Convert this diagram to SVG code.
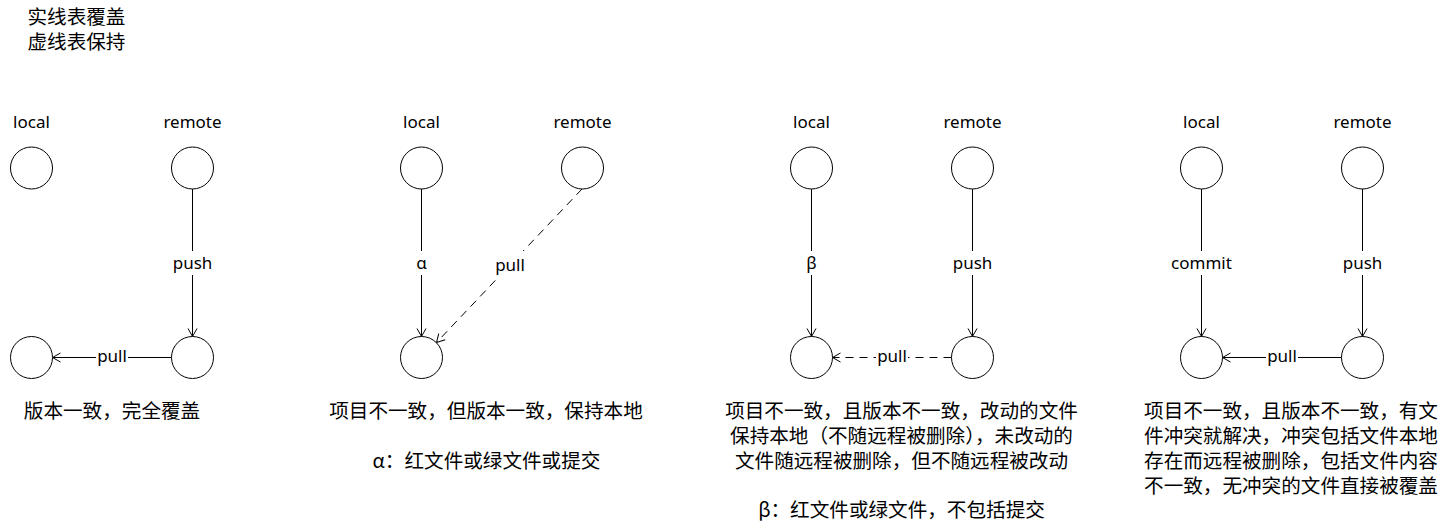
<svg xmlns="http://www.w3.org/2000/svg" width="1452" height="532" viewBox="0 0 1452 532">
<defs>
<marker id="arr" markerUnits="userSpaceOnUse" markerWidth="14" markerHeight="14" viewBox="-11 -7 14 14" refX="0" refY="0" orient="auto">
<path d="M-8,-4.5 L0,0 L-8,4.5" fill="none" stroke="#000" stroke-width="1"/>
</marker>
</defs>
<style>
.n{fill:#fff;stroke:#000;stroke-width:1}
.e{fill:none;stroke:#000;stroke-width:1;marker-end:url(#arr)}
.d{stroke-dasharray:8 6}
.bg{fill:#fff;stroke:none}
.lbl{font-family:"Noto Sans","Noto Sans CJK SC",sans-serif;font-size:17px;fill:#000;text-anchor:middle}
.cn{font-family:"Noto Sans CJK SC","Noto Sans",sans-serif;font-size:19.6px;fill:#000;text-anchor:middle}
.cs{font-family:"Noto Sans CJK SC","Noto Sans",sans-serif;font-size:19.6px;fill:#000}
</style>
<rect width="1452" height="532" fill="#fff"/>
<g id="legend">
<text class="cs" x="27.5" y="24">实线表覆盖</text>
<text class="cs" x="27.5" y="49">虚线表保持</text>
</g>
<g id="connectors">
<line class="e" x1="192.5" y1="189" x2="192.5" y2="336.5"/>
<line class="e" x1="171.5" y1="357.5" x2="52.5" y2="357.5"/>
<line class="e" x1="421.5" y1="189" x2="421.5" y2="336.5"/>
<line class="e d" x1="582" y1="189" x2="436.5" y2="342.5"/>
<line class="e" x1="811.5" y1="189" x2="811.5" y2="336.5"/>
<line class="e" x1="972.5" y1="189" x2="972.5" y2="336.5"/>
<line class="e d" x1="951.5" y1="357.5" x2="832.5" y2="357.5"/>
<line class="e" x1="1201.5" y1="189" x2="1201.5" y2="336.5"/>
<line class="e" x1="1362.5" y1="189" x2="1362.5" y2="336.5"/>
<line class="e" x1="1341.5" y1="357.5" x2="1222.5" y2="357.5"/>
<rect class="bg" x="174" y="251" width="37" height="24"/>
<text class="lbl" x="192.5" y="269">push</text>
<rect class="bg" x="96" y="347" width="32" height="20"/>
<text class="lbl" x="112" y="362">pull</text>
<rect class="bg" x="414" y="251" width="15" height="24"/>
<text class="lbl" x="421.5" y="269">α</text>
<rect class="bg" x="494" y="251" width="32" height="28"/>
<text class="lbl" x="510" y="271">pull</text>
<rect class="bg" x="804" y="251" width="15" height="24"/>
<text class="lbl" x="811.5" y="269">β</text>
<rect class="bg" x="954" y="251" width="37" height="24"/>
<text class="lbl" x="972.5" y="269">push</text>
<rect class="bg" x="876" y="347" width="32" height="20"/>
<text class="lbl" x="892" y="362">pull</text>
<rect class="bg" x="1170" y="251" width="63" height="24"/>
<text class="lbl" x="1201.5" y="269">commit</text>
<rect class="bg" x="1344" y="251" width="37" height="24"/>
<text class="lbl" x="1362.5" y="269">push</text>
<rect class="bg" x="1266" y="347" width="32" height="20"/>
<text class="lbl" x="1282" y="362">pull</text>
</g>
<g id="case1">
<g id="c1-local"><text class="lbl" x="31.5" y="128">local</text><circle class="n" cx="31.5" cy="168" r="21"/></g>
<g id="c1-remote"><text class="lbl" x="192.5" y="128">remote</text><circle class="n" cx="192.5" cy="168" r="21"/></g>
<g id="c1-local2"><circle class="n" cx="31.5" cy="357.5" r="21"/></g>
<g id="c1-remote2"><circle class="n" cx="192.5" cy="357.5" r="21"/></g>
<g id="c1-text"><text class="cn" x="112" y="418">版本一致，完全覆盖</text></g>
</g>
<g id="case2">
<g id="c2-local"><text class="lbl" x="421.5" y="128">local</text><circle class="n" cx="421.5" cy="168" r="21"/></g>
<g id="c2-remote"><text class="lbl" x="582.5" y="128">remote</text><circle class="n" cx="582.5" cy="168" r="21"/></g>
<g id="c2-local2"><circle class="n" cx="421.5" cy="357.5" r="21"/></g>
<g id="c2-text"><text class="cn" x="486" y="418">项目不一致，但版本一致，保持本地</text>
<text class="cn" x="486.5" y="468">α：红文件或绿文件或提交</text></g>
</g>
<g id="case3">
<g id="c3-local"><text class="lbl" x="811.5" y="128">local</text><circle class="n" cx="811.5" cy="168" r="21"/></g>
<g id="c3-remote"><text class="lbl" x="972.5" y="128">remote</text><circle class="n" cx="972.5" cy="168" r="21"/></g>
<g id="c3-local2"><circle class="n" cx="811.5" cy="357.5" r="21"/></g>
<g id="c3-remote2"><circle class="n" cx="972.5" cy="357.5" r="21"/></g>
<g id="c3-text"><text class="cn" x="901.5" y="418">项目不一致，且版本不一致，改动的文件</text>
<text class="cn" x="901.5" y="443">保持本地（不随远程被删除），未改动的</text>
<text class="cn" x="901.5" y="468">文件随远程被删除，但不随远程被改动</text>
<text class="cn" x="901.5" y="517">β：红文件或绿文件，不包括提交</text></g>
</g>
<g id="case4">
<g id="c4-local"><text class="lbl" x="1201.5" y="128">local</text><circle class="n" cx="1201.5" cy="168" r="21"/></g>
<g id="c4-remote"><text class="lbl" x="1362.5" y="128">remote</text><circle class="n" cx="1362.5" cy="168" r="21"/></g>
<g id="c4-local2"><circle class="n" cx="1201.5" cy="357.5" r="21"/></g>
<g id="c4-remote2"><circle class="n" cx="1362.5" cy="357.5" r="21"/></g>
<g id="c4-text"><text class="cn" x="1291" y="418">项目不一致，且版本不一致，有文</text>
<text class="cn" x="1291" y="443">件冲突就解决，冲突包括文件本地</text>
<text class="cn" x="1291" y="468">存在而远程被删除，包括文件内容</text>
<text class="cn" x="1291" y="493">不一致，无冲突的文件直接被覆盖</text></g>
</g>
</svg>
